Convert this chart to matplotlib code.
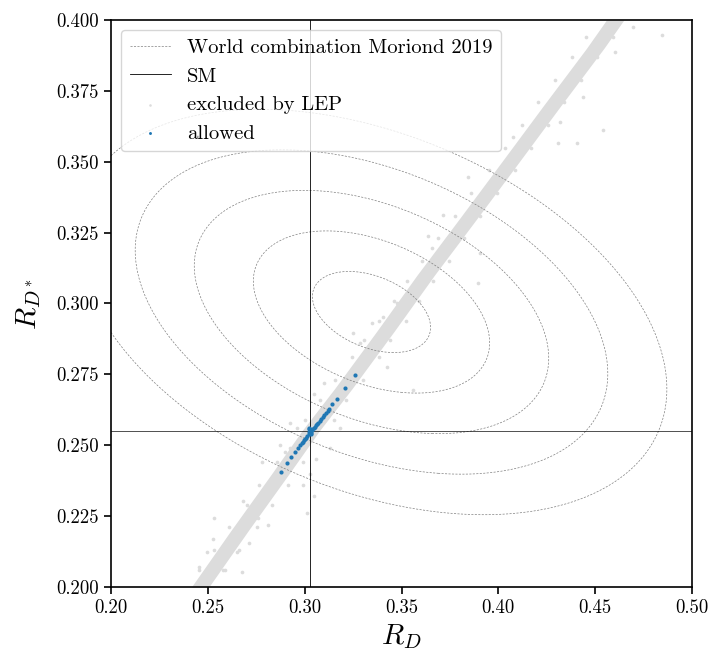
import numpy as np
import matplotlib
matplotlib.use("Agg")
import matplotlib.pyplot as plt
from matplotlib.lines import Line2D

plt.rcParams['font.family'] = 'serif'
plt.rcParams['font.serif'] = ['cmr10']
plt.rcParams['mathtext.fontset'] = 'cm'
plt.rcParams['axes.formatter.use_mathtext'] = True

# world combination (Moriond 2019)
wa_rd, wa_rds = 0.3345, 0.297
wa_sig_rd, wa_sig_rds = 0.0305, 0.0143
wa_rho = -0.38
wa_levels = [1, 2, 3, 4, 5]

# SM point
sm_rd, sm_rds = 0.303, 0.255

# dense core of the "excluded by LEP" band (edges in R_D for given R_D*)
band_rds = [0.200, 0.220, 0.240, 0.255, 0.270, 0.290, 0.310, 0.330, 0.350, 0.370, 0.390, 0.400]
band_left = [0.2415, 0.2620, 0.2830, 0.2985, 0.3155, 0.3370, 0.3580, 0.3800, 0.4018, 0.4235, 0.4455, 0.4558]
band_right = [0.2505, 0.2710, 0.2920, 0.3075, 0.3245, 0.3460, 0.3670, 0.3890, 0.4108, 0.4325, 0.4545, 0.4648]

# scattered excluded points off the core
excl_rd = [0.2532, 0.2528, 0.2497, 0.2675, 0.2456, 0.2713, 0.2683, 0.2761, 0.2813, 0.2649,
           0.2580, 0.4843, 0.4697, 0.4542, 0.4404, 0.4318, 0.4438, 0.4077, 0.4310, 0.4602,
           0.3845, 0.3716, 0.3638, 0.3905, 0.3897, 0.3655, 0.3346, 0.3423, 0.3251, 0.3406,
           0.3286, 0.3475, 0.3561, 0.2924, 0.2898, 0.3131, 0.3157, 0.3030, 0.3050, 0.3010,
           0.3060, 0.2990, 0.3050, 0.3100, 0.2960, 0.3180, 0.2870, 0.2780,
           0.2590, 0.2455, 0.2660, 0.2530, 0.2755, 0.2610, 0.2830, 0.2700, 0.2915, 0.2765,
           0.2990, 0.2855, 0.2925, 0.3150, 0.3000, 0.3215, 0.3080, 0.3300, 0.3155, 0.3385,
           0.3245, 0.3440, 0.3305, 0.3525, 0.3385, 0.3590, 0.3460, 0.3665, 0.3530, 0.3745,
           0.3605, 0.3825, 0.3690, 0.3905, 0.3775, 0.3995, 0.3860, 0.4085, 0.3950, 0.4170,
           0.4035, 0.4255, 0.4120, 0.4340, 0.4205, 0.4425, 0.4290, 0.4510, 0.4380, 0.4590,
           0.4455]
excl_rds = [0.2242, 0.2168, 0.2124, 0.2053, 0.2069, 0.2154, 0.2302, 0.2242, 0.2219, 0.2124,
            0.2060, 0.3947, 0.3976, 0.3612, 0.3565, 0.3641, 0.3729, 0.3589, 0.3565, 0.3888,
            0.3447, 0.3312, 0.3238, 0.3177, 0.3071, 0.3194, 0.2930, 0.2777, 0.2895, 0.2953,
            0.2860, 0.3001, 0.2695, 0.2577, 0.2477, 0.2489, 0.2648, 0.2400, 0.2320, 0.2260,
            0.2450, 0.2360, 0.2680, 0.2720, 0.2560, 0.2560, 0.2500, 0.2440,
            0.206, 0.206, 0.213, 0.213, 0.221, 0.221, 0.229, 0.229, 0.236, 0.236,
            0.244, 0.244, 0.249, 0.259, 0.259, 0.266, 0.266, 0.273, 0.273, 0.281,
            0.281, 0.287, 0.287, 0.294, 0.294, 0.301, 0.301, 0.308, 0.308, 0.315,
            0.315, 0.323, 0.323, 0.331, 0.331, 0.339, 0.339, 0.347, 0.347, 0.355,
            0.355, 0.363, 0.363, 0.371, 0.371, 0.379, 0.379, 0.387, 0.387, 0.394,
            0.394]

# allowed points
allowed_rd = [0.2878, 0.2907, 0.2929, 0.2950, 0.2966, 0.2976, 0.2984, 0.2990, 0.2996, 0.3002,
              0.3008, 0.3014, 0.3020, 0.3026, 0.3030, 0.3034, 0.3040, 0.3046, 0.3052, 0.3058,
              0.3064, 0.3070, 0.3078, 0.3086, 0.3094, 0.3102, 0.3110, 0.3118, 0.3126, 0.3141,
              0.3165, 0.3208, 0.3260, 0.3024, 0.3032, 0.3028, 0.3036, 0.3020, 0.3022, 0.3034]
allowed_rds = [0.2405, 0.2436, 0.2457, 0.2477, 0.2492, 0.2500, 0.2507, 0.2512, 0.2517, 0.2522,
               0.2527, 0.2533, 0.2538, 0.2543, 0.2546, 0.2550, 0.2555, 0.2560, 0.2565, 0.2570,
               0.2575, 0.2580, 0.2587, 0.2594, 0.2601, 0.2608, 0.2614, 0.2621, 0.2628, 0.2645,
               0.2664, 0.2701, 0.2749, 0.2556, 0.2538, 0.2552, 0.2558, 0.2548, 0.2562, 0.2542]

fig = plt.figure(figsize=(7.26, 6.71), dpi=100)
ax = fig.add_axes([0.1529, 0.1252, 0.8003, 0.8450])

# chi2 of the world combination on a grid
gx, gy = np.meshgrid(np.linspace(0.2, 0.5, 400), np.linspace(0.2, 0.4, 400))
u = (gx - wa_rd) / wa_sig_rd
v = (gy - wa_rds) / wa_sig_rds
chi2 = (u**2 - 2 * wa_rho * u * v + v**2) / (1 - wa_rho**2)
ax.contour(gx, gy, np.sqrt(chi2), levels=wa_levels, colors='gray',
           linewidths=0.5, linestyles=[(0, (3, 2))])

gray = '#dcdcdc'
ax.fill_betweenx(band_rds, band_left, band_right, color=gray, lw=0, zorder=1)
excl = ax.scatter(excl_rd, excl_rds, s=7, color=gray, lw=0, zorder=1, label='excluded by LEP')

ax.axvline(sm_rd, color='k', lw=0.6, zorder=2)
ax.axhline(sm_rds, color='k', lw=0.6, alpha=0.8, zorder=2)

allw = ax.scatter(allowed_rd, allowed_rds, s=9, color='#1f77b4', lw=0, zorder=3, label='allowed')

wa_proxy = Line2D([], [], color='gray', lw=0.5, linestyle=(0, (3, 2)))
sm_proxy = Line2D([], [], color='k', lw=0.6)
ax.legend([wa_proxy, sm_proxy, excl, allw],
          ['World combination Moriond 2019', 'SM', 'excluded by LEP', 'allowed'],
          loc='upper left', fontsize=14.8, markerscale=0.7, borderaxespad=0.5)

ax.set_xlim(0.2, 0.5)
ax.set_ylim(0.2, 0.4)
ax.set_xticks(np.arange(0.20, 0.501, 0.05))
ax.set_yticks(np.arange(0.200, 0.401, 0.025))
ax.xaxis.set_major_formatter(matplotlib.ticker.FormatStrFormatter('%.2f'))
ax.yaxis.set_major_formatter(matplotlib.ticker.FormatStrFormatter('%.3f'))
ax.tick_params(labelsize=13.5, width=1.2, length=5)
for sp in ax.spines.values():
    sp.set_linewidth(1.2)
ax.set_xlabel(r'$R_D$', fontsize=21)
ax.set_ylabel(r'$R_{D^*}$', fontsize=21, labelpad=10)

fig.savefig('out.png', dpi=100)
